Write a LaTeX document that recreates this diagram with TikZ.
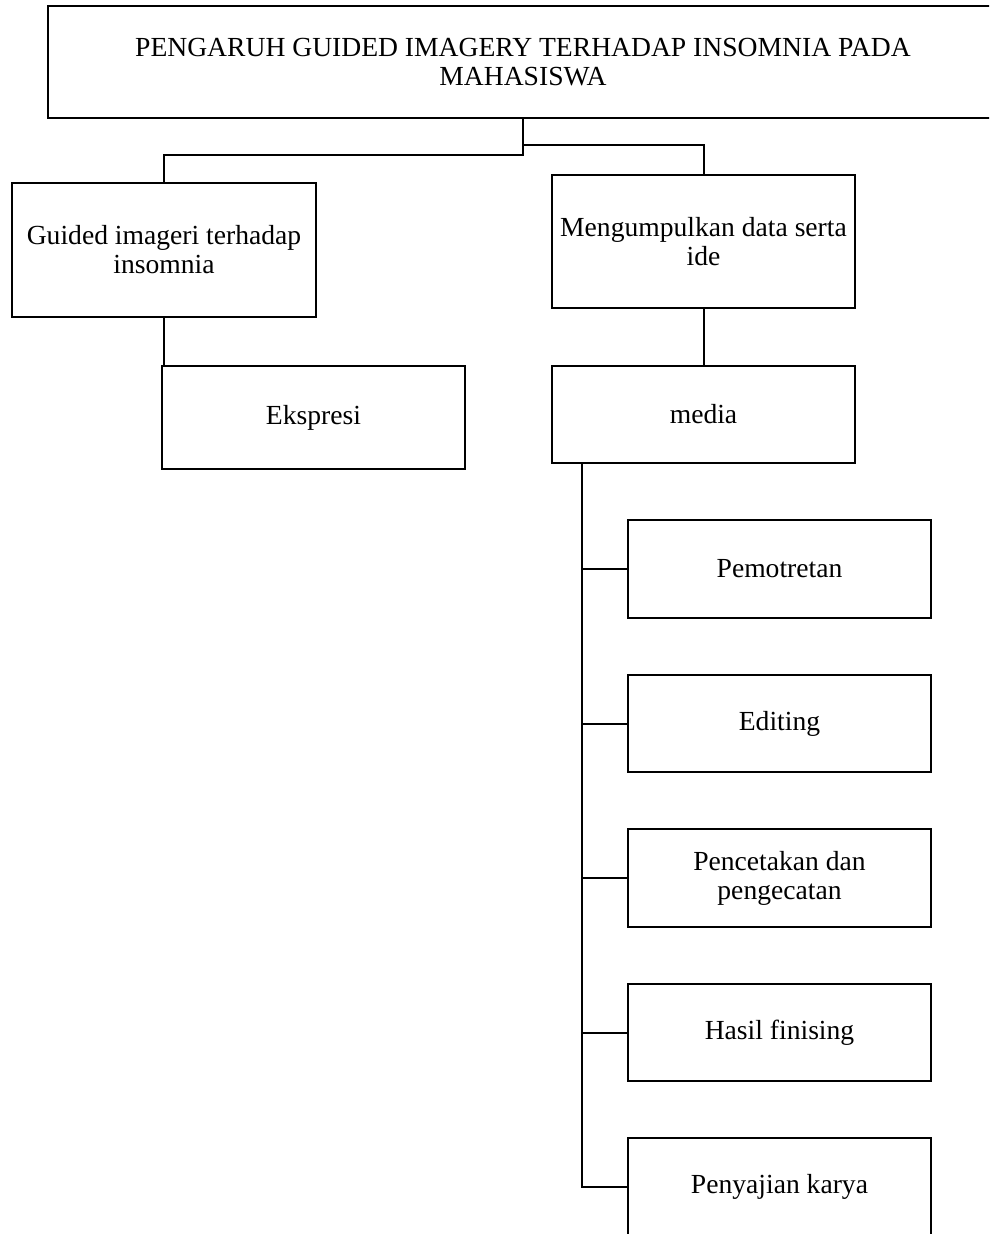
\documentclass[tikz,border=0pt]{standalone}
\usepackage{fontspec}
\setmainfont{Liberation Serif}
\begin{document}
\begin{tikzpicture}[x=1pt,y=-1pt,
  box/.style={draw=black,line width=2pt,fill=white,align=center,inner sep=0pt,
    font=\fontsize{27.6}{29}\selectfont},
  link/.style={draw=black,line width=2pt},
  spine/.style={draw=black,line width=2.6pt}]
\useasboundingbox (0,0) rectangle (989,1234);
\clip (0,0) rectangle (989,1234);
% boxes
\node[box,minimum width=950pt,minimum height=112pt] (title) at (523,62)
  {PENGARUH GUIDED IMAGERY TERHADAP INSOMNIA PADA\\MAHASISWA};
\node[box,minimum width=304pt,minimum height=134pt] (guided) at (164,250)
  {Guided imageri terhadap\\insomnia};
\node[box,minimum width=303pt,minimum height=103pt] (eks) at (313.5,417.5) {Ekspresi};
\node[box,minimum width=303pt,minimum height=133pt] (meng) at (703.5,241.5)
  {Mengumpulkan data serta\\ide};
\node[box,minimum width=303pt,minimum height=97pt] (media) at (703.5,414.5) {media};
\node[box,minimum width=303pt,minimum height=98pt] (p1) at (779.5,569) {Pemotretan};
\node[box,minimum width=303pt,minimum height=97pt] (p2) at (779.5,723.5) {Editing};
\node[box,minimum width=303pt,minimum height=98pt] (p3) at (779.5,878)
  {Pencetakan dan\\pengecatan};
\node[box,minimum width=303pt,minimum height=97pt] (p4) at (779.5,1032.5) {Hasil finising};
\node[box,minimum width=303pt,minimum height=98pt] (p5) at (779.5,1187) {Penyajian karya};
% junction coordinates
\coordinate (jl) at (523,155);
\coordinate (jr) at (523,145);
\coordinate (sp) at (582,463);
% connectors
\draw[link] (title.south) -- (jl) -- (jl -| guided.north) -- (guided.north);
\draw[link] (jr) -- (jr -| meng.north) -- (meng.north);
\draw[link] (guided.south) -- (guided.south |- eks.north);
\draw[link] (meng.south) -- (media.north);
\draw[spine] (sp) -- (sp |- p5.west) -- (p5.west);
\draw[link] (sp |- p1.west) -- (p1.west);
\draw[link] (sp |- p2.west) -- (p2.west);
\draw[link] (sp |- p3.west) -- (p3.west);
\draw[link] (sp |- p4.west) -- (p4.west);
\end{tikzpicture}
\end{document}
